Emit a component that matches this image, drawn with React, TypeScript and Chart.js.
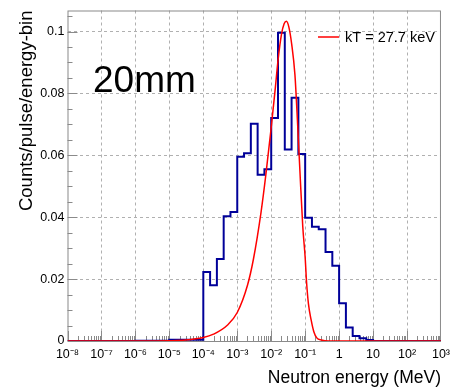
import React, { useEffect, useRef } from "react";
import { Chart, registerables } from "chart.js";

Chart.register(...registerables);

// Histogram: bin edges (log10 of energy in MeV) and bin contents
const histEdgeExp = [-8, -6, -5, -4, -3.8, -3.6, -3.4, -3.2, -3.0, -2.8, -2.6, -2.4, -2.2, -2.0, -1.8, -1.6, -1.4, -1.2, -1.0, -0.8, -0.6, -0.4, -0.2, 0.0, 0.2, 0.4, 0.6, 0.8, 1.0, 3];
const histValues = [0, 0.0001, 0.0004, 0.0223, 0.018, 0.0265, 0.0403, 0.0417, 0.0595, 0.0607, 0.0702, 0.0537, 0.0555, 0.0721, 0.0996, 0.0619, 0.0786, 0.0604, 0.0398, 0.0369, 0.0361, 0.0288, 0.0243, 0.0122, 0.0044, 0.0016, 0.0009, 0.0003, 0];

// Maxwellian curve (kT = 27.7 keV)
const fitEnergy = [1e-8, 1e-6, 1e-5, 3e-5, 1e-4, 2e-4, 5e-4, 1e-3, 2e-3, 3e-3, 5e-3, 7e-3, 1e-2, 1.3e-2, 1.6e-2, 2e-2, 2.4e-2, 2.8e-2, 3.3e-2, 4e-2, 5e-2, 6e-2, 7e-2, 8.5e-2, 0.1, 0.11, 0.125, 0.15, 0.18, 0.22, 0.3, 0.5, 1e3];
const fitValues = [0, 0.00001, 0.0001, 0.0003, 0.0011, 0.0022, 0.005, 0.0092, 0.018, 0.0265, 0.0415, 0.054, 0.069, 0.081, 0.091, 0.099, 0.1025, 0.1033, 0.1015, 0.096, 0.086, 0.07, 0.055, 0.037, 0.027, 0.019, 0.012, 0.0068, 0.003, 0.001, 0.0003, 0, 0];

const xTickValues = [1e-8, 1e-7, 1e-6, 1e-5, 1e-4, 1e-3, 1e-2, 1e-1, 1, 10, 100, 1000];
const xTickLabels = ["10⁻⁸", "10⁻⁷", "10⁻⁶", "10⁻⁵", "10⁻⁴", "10⁻³", "10⁻²", "10⁻¹", "1", "10", "10²", "10³"];
const yTickValues = [0, 0.02, 0.04, 0.06, 0.08, 0.1];
const yTickLabels = ["0", "0.02", "0.04", "0.06", "0.08", "0.1"];

const xMin = 1e-8;
const xMax = 1e3;
const yMin = 0;
const yMax = 0.1068;

const FONT = "'Liberation Sans', Arial, Helvetica, sans-serif";
const FRAME = "#8a8a8a";

const rootStyle = {
  id: "rootStyle",
  beforeDatasetsDraw(chart: any) {
    const { ctx, chartArea: a, scales } = chart;
    const xs = scales.x;
    const ys = scales.y;
    ctx.save();
    ctx.strokeStyle = FRAME;
    ctx.lineWidth = 1;
    ctx.setLineDash([]);
    ctx.strokeRect(a.left + 0.5, a.top + 0.5, a.right - a.left - 1, a.bottom - a.top);
    ctx.beginPath();
    // x ticks (bottom, inside)
    for (let d = -8; d <= 2; d++) {
      for (let m = 1; m <= 9; m++) {
        const v = m * Math.pow(10, d);
        const px = Math.round(xs.getPixelForValue(v)) + 0.5;
        const len = m === 1 ? 10 : 5;
        ctx.moveTo(px, a.bottom);
        ctx.lineTo(px, a.bottom - len);
      }
    }
    // y ticks (left, inside)
    for (let k = 1; k <= 21; k++) {
      const v = k * 0.005;
      if (v > yMax) break;
      const py = Math.round(ys.getPixelForValue(v)) + 0.5;
      const len = k % 4 === 0 ? 10 : 5;
      ctx.moveTo(a.left, py);
      ctx.lineTo(a.left + len, py);
    }
    ctx.stroke();
    ctx.restore();
  },
  afterDraw(chart: any) {
    const { ctx, chartArea: a } = chart;
    ctx.save();
    ctx.fillStyle = "#000";
    // big label
    ctx.font = `37px ${FONT}`;
    ctx.textAlign = "left";
    ctx.textBaseline = "alphabetic";
    ctx.fillText("20mm", 93, 92);
    // legend
    ctx.strokeStyle = "#ff0000";
    ctx.lineWidth = 1.5;
    ctx.beginPath();
    ctx.moveTo(318, 37);
    ctx.lineTo(339, 37);
    ctx.stroke();
    ctx.font = `14.5px ${FONT}`;
    ctx.fillText("kT = 27.7 keV", 345, 42);
    // x title
    ctx.font = `17.5px ${FONT}`;
    ctx.textAlign = "right";
    ctx.fillText("Neutron energy (MeV)", a.right, 383);
    // y title
    ctx.translate(32, a.top);
    ctx.rotate(-Math.PI / 2);
    ctx.font = `18.5px ${FONT}`;
    ctx.textAlign = "right";
    ctx.fillText("Counts/pulse/energy-bin", 0, 0);
    ctx.restore();
  },
};

export default function App() {
  const ref = useRef<HTMLCanvasElement | null>(null);
  useEffect(() => {
    document.body.style.margin = "0";
    const canvas = ref.current;
    if (!canvas) return;
    const histData = histEdgeExp.map((e, i) => ({
      x: Math.pow(10, e),
      y: i < histValues.length ? histValues[i] : histValues[histValues.length - 1],
    }));
    const fitData = fitEnergy.map((e, i) => ({ x: e, y: fitValues[i] }));
    const chart = new Chart(canvas, {
      type: "line",
      data: {
        datasets: [
          {
            label: "kT = 27.7 keV",
            data: fitData,
            borderColor: "#ff0000",
            borderWidth: 1.5,
            pointRadius: 0,
            cubicInterpolationMode: "monotone",
            fill: false,
          },
          {
            label: "20mm",
            data: histData,
            borderColor: "#000099",
            borderWidth: 2,
            pointRadius: 0,
            stepped: "before",
            fill: false,
          },
        ],
      },
      options: {
        animation: false,
        responsive: false,
        devicePixelRatio: 1,
        layout: { padding: { top: 10, right: 11, left: 0, bottom: 0 } },
        plugins: {
          legend: { display: false },
          tooltip: { enabled: false },
          title: { display: false },
        },
        scales: {
          x: {
            type: "logarithmic",
            min: xMin,
            max: xMax,
            afterBuildTicks: (scale: any) => {
              scale.ticks = xTickValues.map((v) => ({ value: v }));
            },
            afterFit: (scale: any) => {
              scale.height = 46;
            },
            ticks: {
              autoSkip: false,
              maxRotation: 0,
              padding: 6,
              color: "#000",
              font: { family: FONT, size: 12.5 },
              callback: (_v: any, i: number) => xTickLabels[i],
            },
            grid: {
              drawTicks: false,
              lineWidth: 1,
              color: (c: any) =>
                c.index === 0 || c.index === xTickValues.length - 1 ? "rgba(0,0,0,0)" : "#b0b0b0",
            },
            border: { display: false, dash: [3, 3] },
          },
          y: {
            type: "linear",
            min: yMin,
            max: yMax,
            afterBuildTicks: (scale: any) => {
              scale.ticks = yTickValues.map((v) => ({ value: v }));
            },
            afterFit: (scale: any) => {
              scale.width = 67.5;
            },
            ticks: {
              padding: 3,
              color: "#000",
              font: { family: FONT, size: 12.5 },
              callback: (_v: any, i: number) => yTickLabels[i],
            },
            grid: {
              drawTicks: false,
              lineWidth: 1,
              color: (c: any) => (c.index === 0 ? "rgba(0,0,0,0)" : "#b0b0b0"),
            },
            border: { display: false, dash: [3, 3] },
          },
        },
      },
      plugins: [rootStyle],
    });
    return () => chart.destroy();
  }, []);
  return (
    <div style={{ position: "absolute", left: 0, top: 0, width: 456, height: 387, background: "#fff" }}>
      <canvas ref={ref} width={456} height={387} style={{ display: "block" }} />
    </div>
  );
}
